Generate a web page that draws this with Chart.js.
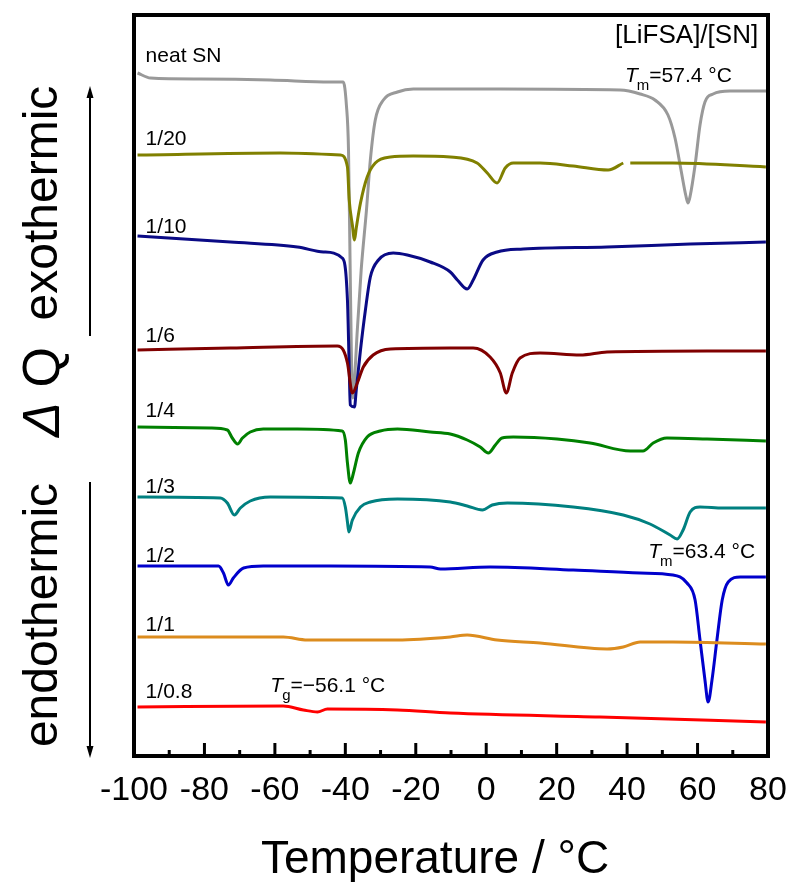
<!DOCTYPE html>
<html><head><meta charset="utf-8">
<script src="https://cdn.jsdelivr.net/npm/chart.js@4.4.1/dist/chart.umd.min.js"></script>
<style>html,body{margin:0;padding:0;background:#fff}canvas{display:block}</style>
</head><body>
<canvas id="c" width="790" height="882"></canvas>
<script>
// ---------- data (temperature in °C, ΔQ in arbitrary units, curves offset vertically) ----------
const xTickValues = [-100, -80, -60, -40, -20, 0, 20, 40, 60, 80];
const seriesNames  = ['neat SN', '1/20', '1/10', '1/6', '1/4', '1/3', '1/2', '1/1', '1/0.8'];
const seriesColors = ['#999999', '#808000', '#0a0a85', '#800000', '#008000', '#008080', '#0000cc', '#dc8c1e', '#ff0000'];

const snT = [-99.0,-95.3,-81.1,-61.3,-44.3,-40.6,-39.7,-39.1,-38.7,-38.3,-37.9,-37.4,-36.6,-35.5,-34.0,-32.9,-31.5,-29.2,-25.2,-20.7,4.0,38.0,43.7,47.9,51.6,53.6,55.3,56.7,57.3,57.9,59.3,60.7,62.1,64.4,69.2,80.0];
const snQ = [683,678,677,676,674,674,651,606,506,406,358,376,426,486,546,596,636,656,664,667,667,666,662,656,641,618,586,560,553,560,591,631,654,662,665,665];

const r20T = [-99.0,-58.4,-41.4,-39.4,-38.9,-38.0,-37.4,-36.9,-35.7,-33.8,-31.5,-27.2,-20.7,-10.2,-2.6,0.3,3.1,5.4,7.7,15.3,24.7,34.6,38.9,40.0,40.9,53.0,79.4];
const r20Q = [601,603,601,589,556,531,516,528,553,579,593,599,600,599,593,583,573,588,593,593,590,586,593,null,593,593,589];

const r10T = [-99.0,-72.6,-53.6,-46.2,-40.9,-39.4,-38.9,-38.6,-37.4,-36.9,-35.7,-34.3,-32.9,-30.6,-26.4,-22.4,-15.9,-10.2,-8.2,-5.4,-3.7,-0.9,3.1,10.5,34.3,57.9,79.4];
const r10Q = [520,514,509,504,498,456,389,351,349,366,406,446,479,496,503,501,494,484,476,467,476,496,504,507,509,512,514];

const r6T = [-99.0,-72.6,-42.3,-40.6,-39.4,-38.0,-36.6,-34.9,-32.1,-27.2,-10.2,-3.7,1.1,4.0,5.7,7.4,9.6,15.3,26.7,34.3,62.7,79.4];
const r6Q = [406,408,410,406,393,363,373,389,401,407,408,408,399,383,363,383,398,403,401,404,405,405];

const r4T = [-99.0,-78.3,-73.5,-72.1,-70.6,-69.2,-67.0,-63.3,-53.6,-40.9,-40.0,-39.4,-38.6,-37.7,-36.3,-33.8,-30.1,-25.2,-15.9,-10.2,-5.4,-1.7,0.6,2.6,4.5,7.7,20.1,29.5,40.9,44.5,47.4,51.3,62.7,79.4];
const r4Q = [329,328,326,318,312,318,324,327,327,325,316,293,273,283,303,319,325,327,324,322,316,309,303,311,318,319,317,313,305,305,313,318,317,315];

const r3T = [-99.0,-75.5,-73.5,-71.5,-69.8,-67.0,-61.3,-40.9,-40.0,-39.4,-39.0,-38.0,-35.7,-32.9,-25.2,-10.2,-5.4,-1.1,1.7,6.0,24.7,38.9,46.5,52.2,54.2,55.9,57.9,60.7,67.2,79.4];
const r3Q = [259,258,253,241,248,255,259,258,249,234,224,236,249,254,257,254,250,246,251,253,249,241,232,221,217,226,244,249,248,248];

const r2T = [-99.0,-76.0,-74.6,-73.2,-71.8,-68.9,-63.3,-44.3,-15.9,-13.0,1.1,24.7,43.7,53.0,57.0,59.3,60.7,62.1,63.0,64.1,65.5,67.0,68.7,72.1,79.4];
const r2Q = [190,190,183,171,178,188,190,190,189,187,189,186,183,181,173,156,116,76,54,76,116,156,174,179,179];

const r1T = [-99.0,-57.6,-50.8,-25.2,-10.2,-5.4,3.1,15.3,34.3,38.9,43.7,53.0,79.4];
const r1Q = [119,119,116,116,119,121,116,113,107,109,114,114,112];

const r08T = [-99.0,-57.6,-51.9,-47.9,-45.1,-25.2,-10.2,32.3,79.4];
const r08Q = [49,50,46,44,47,46,43,39,34];

const seriesT = [snT, r20T, r10T, r6T, r4T, r3T, r2T, r1T, r08T];
const seriesQ = [snQ, r20Q, r10Q, r6Q, r4Q, r3Q, r2Q, r1Q, r08Q];

// labels of curves, placed in data coordinates (left end at T, baseline at Q)
const labelT = [-96.7,-96.7,-96.7,-96.7,-96.7,-96.7,-96.7,-96.7,-96.7];
const labelQ = [694, 611, 523, 414, 339, 263, 194, 125, 58];

// annotations: [symbol, subscript, rest, T, Q]
const annotText = [['T','m','=57.4 °C', 39.4, 674], ['T','m','=63.4 °C', 46.0, 198], ['T','g','=\u221256.1 °C', -61.3, 64]];

const FONT = '"Liberation Sans", Arial, Helvetica, sans-serif';

const datasets = seriesNames.map((n, i) => ({
  label: n,
  data: seriesT[i].map((t, k) => ({x: t, y: seriesQ[i][k]})),
  borderColor: seriesColors[i],
  backgroundColor: seriesColors[i],
  borderWidth: 3,
  pointRadius: 0,
  cubicInterpolationMode: 'monotone',
  spanGaps: false,
  fill: false,
  order: seriesNames.length - i
}));

const deco = {
  id: 'deco',
  afterDatasetsDraw(chart) {
    const {ctx, chartArea: a, scales: {x, y}} = chart;
    ctx.save();
    ctx.fillStyle = '#000';
    ctx.strokeStyle = '#000';
    // inward ticks (major every 20, minor every 10)
    ctx.lineWidth = 3;
    for (let v = -100; v <= 80; v += 10) {
      const px = x.getPixelForValue(v);
      const len = (v % 20 === 0) ? 13 : 6;
      ctx.beginPath(); ctx.moveTo(px, a.bottom); ctx.lineTo(px, a.bottom - len); ctx.stroke();
    }
    // frame
    ctx.lineWidth = 4;
    ctx.strokeRect(a.left, a.top, a.right - a.left, a.bottom - a.top);

    // curve labels
    ctx.textAlign = 'left'; ctx.textBaseline = 'alphabetic';
    ctx.font = '21px ' + FONT;
    seriesNames.forEach((n, i) => ctx.fillText(n, x.getPixelForValue(labelT[i]), y.getPixelForValue(labelQ[i])));

    // legend title
    ctx.font = '26px ' + FONT;
    ctx.textAlign = 'right';
    ctx.fillText('[LiFSA]/[SN]', x.getPixelForValue(77.2), y.getPixelForValue(713));

    // Tm / Tg annotations
    ctx.textAlign = 'left';
    annotText.forEach(([s, sub, rest, t, q]) => {
      let px = x.getPixelForValue(t), py = y.getPixelForValue(q);
      ctx.font = 'italic 21px ' + FONT;
      ctx.fillText(s, px, py); px += ctx.measureText(s).width - 1;
      ctx.font = '15px ' + FONT;
      ctx.fillText(sub, px, py + 8); px += ctx.measureText(sub).width;
      ctx.font = '21px ' + FONT;
      ctx.fillText(rest, px, py);
    });

    // x title
    ctx.font = '46px ' + FONT;
    ctx.textAlign = 'center';
    ctx.fillText('Temperature / °C', 435, 873);

    // left vertical labels
    const vtext = (txt, cx, cy, font) => {
      ctx.save(); ctx.translate(cx, cy); ctx.rotate(-Math.PI / 2);
      ctx.font = font; ctx.textAlign = 'center'; ctx.fillText(txt, 0, 0); ctx.restore();
    };
    vtext('exothermic', 57, 203, '48px ' + FONT);
    vtext('endothermic', 57, 615, '48px ' + FONT);
    // ΔQ with italic Δ
    ctx.save(); ctx.translate(59, 392); ctx.rotate(-Math.PI / 2);
    ctx.font = 'italic 52px ' + FONT; const wd = ctx.measureText('\u0394 ').width;
    ctx.font = '52px ' + FONT; const wq = ctx.measureText('Q').width;
    const st = -(wd + wq) / 2;
    ctx.textAlign = 'left';
    ctx.font = 'italic 52px ' + FONT; ctx.fillText('\u0394', st, 0);
    ctx.font = '52px ' + FONT; ctx.fillText('Q', st + wd, 0);
    ctx.restore();

    // arrows
    ctx.lineWidth = 2;
    ctx.beginPath(); ctx.moveTo(90, 336); ctx.lineTo(90, 96); ctx.stroke();
    ctx.beginPath(); ctx.moveTo(90, 86); ctx.lineTo(86.5, 98); ctx.lineTo(93.5, 98); ctx.closePath(); ctx.fill();
    ctx.beginPath(); ctx.moveTo(90, 482); ctx.lineTo(90, 748); ctx.stroke();
    ctx.beginPath(); ctx.moveTo(90, 758); ctx.lineTo(86.5, 746); ctx.lineTo(93.5, 746); ctx.closePath(); ctx.fill();
    ctx.restore();
  }
};

new Chart(document.getElementById('c'), {
  type: 'line',
  data: {datasets},
  options: {
    responsive: false,
    animation: false,
    devicePixelRatio: 1,
    layout: {padding: {left: 134, right: 22, top: 15, bottom: 0}},
    plugins: {legend: {display: false}, tooltip: {enabled: false}, title: {display: false}},
    scales: {
      x: {
        type: 'linear', min: -100, max: 80,
        afterBuildTicks: s => { s.ticks = xTickValues.map(v => ({value: v})); },
        afterFit: s => { s.height = 126; s.paddingLeft = 0; s.paddingRight = 0; },
        grid: {display: false, drawTicks: false},
        border: {display: false},
        ticks: {autoSkip: false, maxRotation: 0, padding: 14, color: '#000',
                font: {size: 34, family: FONT}, callback: v => String(v)}
      },
      y: {type: 'linear', display: false, min: 0, max: 741}
    }
  },
  plugins: [deco]
});
</script>
</body></html>
